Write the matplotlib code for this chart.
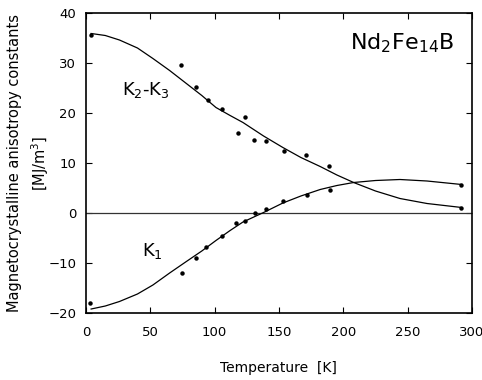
import matplotlib
matplotlib.use("Agg")
import matplotlib.pyplot as plt

plt.rcParams['font.family'] = ['DejaVu Sans', 'Noto Sans CJK JP']

# measured points
k23_T = [3.9, 73.7, 85.4, 94.7, 105.8, 117.8, 123.5, 130.7, 140.1, 153.5, 171.2, 189.0, 291.6]
k23_val = [35.6, 29.6, 25.1, 22.6, 20.7, 16.0, 19.1, 14.7, 14.5, 12.5, 11.7, 9.5, 1.1]

k1_T = [3.1, 75.0, 85.3, 93.4, 105.8, 116.2, 123.5, 131.0, 140.1, 153.3, 172.0, 189.4, 291.3]
k1_val = [-17.9, -12.0, -9.0, -6.8, -4.5, -2.0, -1.5, 0.0, 0.8, 2.4, 3.7, 4.6, 5.7]

# fitted curves
fit_T = [4, 15, 26, 40, 52, 65, 78, 90, 101, 112, 122, 138, 153, 167, 182, 195, 208, 225, 244, 265, 292]
fit_k23 = [35.9, 35.5, 34.6, 33.0, 30.9, 28.5, 25.9, 23.5, 21.1, 19.5, 18.1, 15.4, 13.1, 11.1, 9.3, 7.6, 6.1, 4.4, 2.9, 1.9, 1.1]
fit_k1 = [-19.2, -18.6, -17.7, -16.2, -14.4, -12.0, -9.7, -7.6, -5.5, -3.5, -1.8, 0.1, 2.0, 3.4, 4.7, 5.5, 6.1, 6.5, 6.7, 6.4, 5.7]

x_ticks = [0, 50, 100, 150, 200, 250, 300]
y_ticks = [-20, -10, 0, 10, 20, 30, 40]


def main():
    fig = plt.figure(figsize=(4.82, 3.80), dpi=100)
    ax = fig.add_axes([0.1784, 0.1763, 0.8009, 0.7895])

    ax.axhline(0, color="#333333", lw=0.9)
    ax.plot(fit_T, fit_k23, color="black", lw=0.9)
    ax.plot(fit_T, fit_k1, color="black", lw=0.9)
    ax.plot(k23_T, k23_val, "o", color="black", ms=3.2, mec="none")
    ax.plot(k1_T, k1_val, "o", color="black", ms=3.2, mec="none")

    ax.set_xlim(0, 300)
    ax.set_ylim(-20, 40)
    ax.set_xticks(x_ticks)
    ax.set_yticks(y_ticks)
    ax.set_yticklabels([str(v).replace("-", "\u2212") for v in y_ticks])
    ax.tick_params(direction="in", length=4, width=0.8, top=True, right=True,
                   labelsize=9.5)
    ax.tick_params(axis="x", pad=9)
    ax.tick_params(axis="y", pad=7)
    for sp in ax.spines.values():
        sp.set_linewidth(1.2)

    ax.text(46.7, 24.6, "K$_2$-K$_3$", fontsize=13, ha="center", va="center")
    ax.text(52, -7.6, "K$_1$", fontsize=13, ha="center", va="center")
    ax.text(0.955, 0.9, "Nd$_2$Fe$_{14}$B", transform=ax.transAxes, fontsize=16,
            ha="right", va="center")

    fig.text(0.5768, 0.032, "Temperature  [K]", ha="center", va="center", fontsize=10)
    fig.text(0.031, 0.571, "Magnetocrystalline anisotropy constants", rotation=90,
             ha="center", va="center", fontsize=10.5)
    fig.text(0.083, 0.571, "[MJ/m$^3$]", rotation=90, ha="center", va="center",
             fontsize=10.5)

    fig.savefig("out.png", dpi=100)


if __name__ == "__main__":
    main()
